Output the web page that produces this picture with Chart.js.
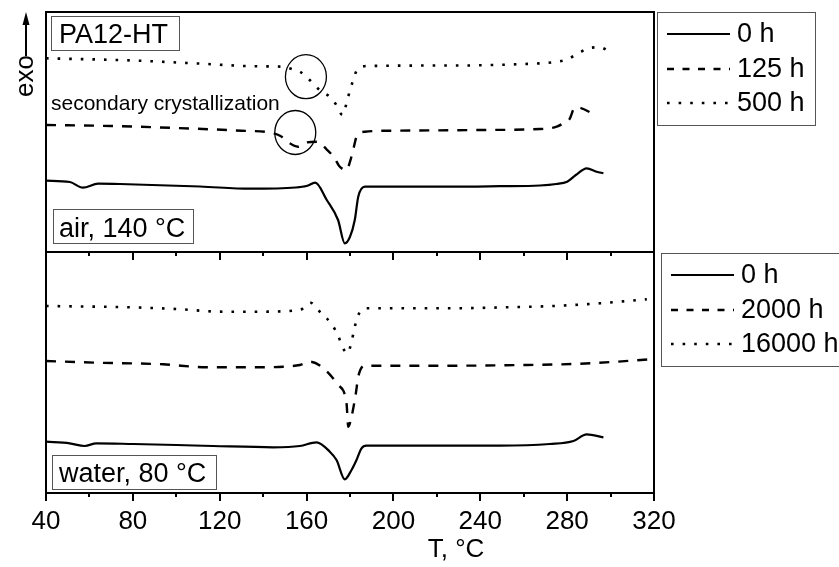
<!DOCTYPE html>
<html>
<head>
<meta charset="utf-8">
<script src="https://cdn.jsdelivr.net/npm/chart.js@4.4.1/dist/chart.umd.min.js"></script>
<style>
  html, body { margin: 0; padding: 0; background: #fff; }
  #wrap { position: relative; width: 839px; height: 567px; overflow: hidden; }
  .panel { position: absolute; left: 0; }
  #airBox { top: 0; }
  #waterBox { top: 240px; }
</style>
</head>
<body>
<div id="wrap">
  <div class="panel" id="airBox"><canvas id="airChart" width="839" height="262"></canvas></div>
  <div class="panel" id="waterBox"><canvas id="waterChart" width="839" height="327"></canvas></div>
</div>
<script>
const FONT = "'Liberation Sans', Arial, sans-serif";

// temperature axis
const T_MIN = 40, T_MAX = 320;
const majorT = [40, 80, 120, 160, 200, 240, 280, 320];
const minorT = [60, 100, 140, 180, 220, 260, 300];

// aged in air, 140 °C  (heat flow, arbitrary offset units)
const airT0 = [40, 51, 57, 64, 74, 111, 134, 155, 160, 164, 169.3, 174.5, 177.6, 180, 182.2, 183.8, 186.9, 226, 249, 267.5, 275, 280, 284, 289, 293.6, 296.7];
const air0 = [71.3, 70, 64.3, 68.3, 68, 65.5, 63.3, 64.5, 66, 69.3, 52, 32, 8.7, 15.3, 32, 55.3, 65.3, 65.3, 65.8, 66.5, 68, 70.3, 77, 83.7, 80.3, 78.7];

const airT125 = [40, 70, 100, 130, 143, 148, 152, 156, 160, 165, 169.2, 173, 175, 178.4, 180, 181.8, 183, 186.9, 200, 240, 267.5, 275.2, 278.2, 281.3, 283, 284.5, 287.5, 292];
const air125 = [127, 126, 124, 121.3, 119.5, 116, 109, 105.3, 109.5, 110.3, 102.7, 93.7, 86, 82, 90.3, 105.3, 115.3, 120.3, 121.3, 122, 123, 125.3, 128.7, 133.7, 143, 144.8, 143, 138];

const airT500 = [40, 80, 110, 137, 149, 153.7, 157, 161.4, 166, 170.6, 173.4, 176.6, 178.4, 180, 181.5, 183.4, 188.4, 230, 260, 273.6, 279, 284, 289.8, 295, 299.6];
const air500 = [193.7, 191.5, 188.5, 185.7, 185.3, 182.7, 180.3, 172, 162, 155.3, 148, 137, 148.7, 162, 172, 182.7, 186, 186.5, 188, 189.7, 192, 197, 203.7, 204.7, 200.3];

// aged in water, 80 °C
const waterT0 = [40, 50.9, 57.8, 63.2, 80.1, 100.1, 117, 144.6, 156.9, 164.6, 170.7, 173.8, 177.6, 180.7, 183, 185.3, 187.6, 212.2, 249, 272, 282.9, 289, 296.7];
const water0 = [51.3, 49.7, 47, 49.7, 49, 48, 47, 45.7, 47, 50.7, 41.3, 33, 13.7, 23, 33, 44.7, 47.3, 47.3, 47.3, 49, 52, 58.7, 55.7];

const waterT2000 = [40, 63.2, 93.9, 113.9, 137, 149.2, 156.9, 161.5, 166.9, 174.6, 178.4, 179.2, 180.7, 182.7, 183.8, 186.9, 226, 259.8, 282.9, 302.9, 319.7];
const water2000 = [132, 130.3, 128.7, 125.7, 125.7, 126.3, 128, 131.3, 126.3, 108, 89.7, 66.3, 76.3, 99.7, 116.3, 127.3, 127.3, 128, 129, 131.3, 134];

const waterT16000 = [40, 78.6, 100.1, 121.6, 137, 156.9, 161.8, 166.5, 171.5, 174.6, 176.6, 178.9, 180.7, 181.9, 183.3, 186.9, 226, 252.2, 273.6, 295.1, 316.7];
const water16000 = [187, 185.7, 184, 181.3, 181.3, 183, 190.3, 180.3, 169, 157, 145.7, 139.7, 151.3, 163, 175.3, 184.7, 184.7, 185.7, 187, 189.7, 193.7];

const airLabels = ['0 h', '125 h', '500 h'];
const waterLabels = ['0 h', '2000 h', '16000 h'];

const solid = { borderDash: [], borderWidth: 2.2, legendDash: [] };
const dashed = { borderDash: [10, 9], borderWidth: 2.4, legendDash: [7, 8.5] };
const dotted = { borderDash: [2.6, 9], borderWidth: 2.6, legendDash: [2.6, 9] };

function series(ts, vs) {
  return ts.map((t, i) => ({ x: t, y: vs[i] }));
}

function dataset(label, ts, vs, style) {
  return Object.assign({
    label: label,
    data: series(ts, vs),
    borderColor: '#000',
    pointRadius: 0,
    fill: false,
    cubicInterpolationMode: 'monotone'
  }, style);
}

function boxedText(ctx, b) {
  ctx.lineWidth = 1;
  ctx.strokeStyle = '#555';
  ctx.setLineDash([]);
  ctx.strokeRect(b.x + 0.5, b.y + 0.5, b.w, b.h);
  ctx.font = b.size + 'px ' + FONT;
  ctx.fillStyle = '#000';
  ctx.textAlign = 'left';
  ctx.textBaseline = 'alphabetic';
  ctx.fillText(b.text, b.tx, b.ty);
}

// frame, tick marks, legend box and labels drawn on top of each panel
function makeDecor(cfg) {
  return {
    id: 'panelDecor',
    afterDraw(chart) {
      const ctx = chart.ctx, a = chart.chartArea, xs = chart.scales.x;
      ctx.save();
      ctx.strokeStyle = '#000';
      ctx.lineWidth = 2;
      ctx.setLineDash([]);
      ctx.strokeRect(a.left, a.top, a.right - a.left, a.bottom - a.top);

      ctx.beginPath();
      majorT.forEach(t => {
        const px = Math.round(xs.getPixelForValue(t));
        ctx.moveTo(px, a.bottom);
        ctx.lineTo(px, a.bottom + 8);
      });
      minorT.forEach(t => {
        const px = Math.round(xs.getPixelForValue(t));
        ctx.moveTo(px, a.bottom);
        ctx.lineTo(px, a.bottom + 4);
      });
      ctx.stroke();

      // legend
      const L = cfg.legend;
      ctx.lineWidth = 1;
      ctx.strokeStyle = '#555';
      ctx.strokeRect(L.left + 0.5, L.top + 0.5, L.width, L.height);
      ctx.font = '27px ' + FONT;
      ctx.fillStyle = '#000';
      ctx.textAlign = 'left';
      ctx.textBaseline = 'middle';
      chart.data.datasets.forEach((ds, i) => {
        const ry = L.top + L.rows[i];
        ctx.beginPath();
        ctx.strokeStyle = '#000';
        ctx.lineWidth = ds.borderWidth;
        ctx.setLineDash(ds.legendDash);
        ctx.moveTo(L.left + 10, ry);
        ctx.lineTo(L.left + 73, ry);
        ctx.stroke();
        ctx.setLineDash([]);
        ctx.fillText(ds.label, L.left + 80, ry + 1);
      });

      cfg.boxes.forEach(b => boxedText(ctx, b));
      if (cfg.extra) cfg.extra(chart, ctx);
      ctx.restore();
    }
  };
}

function makeChart(id, datasets, yMax, xHeight, showLabels, decor) {
  return new Chart(document.getElementById(id), {
    type: 'line',
    data: { datasets: datasets },
    options: {
      responsive: false,
      animation: false,
      layout: { padding: { top: 12, left: 46, right: 185, bottom: 0 } },
      plugins: { legend: { display: false }, tooltip: { enabled: false } },
      scales: {
        x: {
          type: 'linear',
          min: T_MIN,
          max: T_MAX,
          border: { display: false },
          grid: { display: false, drawTicks: false },
          ticks: {
            display: showLabels,
            stepSize: 40,
            padding: 13,
            color: '#000',
            font: { family: FONT, size: 26 }
          },
          afterFit(scale) { scale.height = xHeight; }
        },
        y: { display: false, min: 0, max: yMax }
      }
    },
    plugins: [makeDecor(decor)]
  });
}

makeChart('airChart', [
  dataset(airLabels[0], airT0, air0, solid),
  dataset(airLabels[1], airT125, air125, dashed),
  dataset(airLabels[2], airT500, air500, dotted)
], 240, 10, false, {
  legend: { left: 657, top: 12, width: 158, height: 113, rows: [22, 57, 91] },
  boxes: [
    { text: 'PA12-HT', x: 51, y: 16, w: 128, h: 34, tx: 59, ty: 43, size: 27 },
    { text: 'air, 140 °C', x: 53, y: 209, w: 140, h: 34, tx: 59, ty: 237, size: 27 }
  ],
  extra(chart, ctx) {
    const xs = chart.scales.x, ys = chart.scales.y;
    ctx.font = '21px ' + FONT;
    ctx.fillStyle = '#000';
    ctx.textBaseline = 'alphabetic';
    ctx.fillText('secondary crystallization', 51, 110);

    // circles around the shoulders before the melting peak
    ctx.lineWidth = 1.3;
    ctx.strokeStyle = '#000';
    [[159.7, 175.3], [154.8, 119.5]].forEach(p => {
      ctx.beginPath();
      ctx.ellipse(xs.getPixelForValue(p[0]), ys.getPixelForValue(p[1]), 20.5, 22, 0, 0, Math.PI * 2);
      ctx.stroke();
    });

    // "exo" with upward arrow
    ctx.save();
    ctx.translate(33, 97);
    ctx.rotate(-Math.PI / 2);
    ctx.font = '26px ' + FONT;
    ctx.fillText('exo', 0, 0);
    ctx.restore();
    ctx.lineWidth = 2;
    ctx.beginPath();
    ctx.moveTo(26, 56);
    ctx.lineTo(26, 22);
    ctx.stroke();
    ctx.beginPath();
    ctx.moveTo(26, 12);
    ctx.lineTo(22.5, 25);
    ctx.lineTo(29.5, 25);
    ctx.closePath();
    ctx.fill();
  }
});

makeChart('waterChart', [
  dataset(waterLabels[0], waterT0, water0, solid),
  dataset(waterLabels[1], waterT2000, water2000, dashed),
  dataset(waterLabels[2], waterT16000, water16000, dotted)
], 241, 74, true, {
  legend: { left: 661, top: 13, width: 190, height: 113, rows: [22, 57, 91] },
  boxes: [
    { text: 'water, 80 °C', x: 52, y: 215, w: 164, h: 34, tx: 59, ty: 242, size: 27 }
  ],
  extra(chart, ctx) {
    ctx.font = '26px ' + FONT;
    ctx.fillStyle = '#000';
    ctx.textAlign = 'center';
    ctx.textBaseline = 'alphabetic';
    ctx.fillText('T, °C', 456, 317);
  }
});
</script>
</body>
</html>
